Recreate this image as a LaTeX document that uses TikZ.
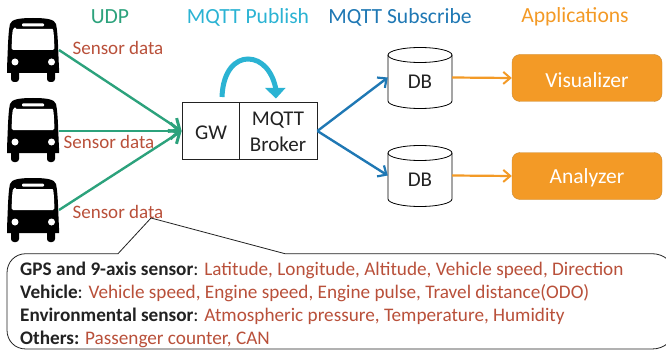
\documentclass[tikz,border=0pt]{standalone}
\usepackage{fontspec}
\setmainfont{Carlito}
\usetikzlibrary{arrows.meta,shapes.geometric}
\definecolor{udpgreen}{HTML}{2CA27C}
\definecolor{pubcyan}{HTML}{2BB3D3}
\definecolor{subblue}{HTML}{1F78B4}
\definecolor{apporange}{HTML}{F39A26}
\definecolor{apporangedark}{HTML}{C98A35}
\definecolor{sensorred}{HTML}{B9503A}
\definecolor{ink}{HTML}{222222}
\tikzset{
  x=1pt,y=-1pt,
  heading/.style={font=\fontsize{21.6}{24}\selectfont,anchor=center,inner sep=0pt},
  sensor/.style={font=\fontsize{19}{21}\selectfont,text=sensorred,anchor=center,inner sep=0pt},
  udpline/.style={draw=udpgreen,line width=2.4pt,-{Straight Barb[length=9pt,width=16pt,line width=3pt]}},
  subline/.style={draw=subblue,line width=2.4pt,-{Straight Barb[length=7pt,width=13pt,line width=2.2pt]}},
  appline/.style={draw=apporange,line width=2.2pt,-{Straight Barb[length=7pt,width=12pt,line width=2pt]}},
  appbox/.style={draw=apporangedark,fill=apporange,rounded corners=8pt,minimum width=150pt,minimum height=47pt,inner sep=0pt},
  apptext/.style={text=white,font=\fontsize{21.5}{24}\selectfont,inner sep=0pt},
  boxtext/.style={font=\fontsize{21}{25.5}\selectfont,text=ink,inner sep=0pt,align=center},
  calltext/.style={anchor=base west,inner sep=0pt,font=\fontsize{19.2}{21}\selectfont,text=ink},
  dbbox/.style={minimum width=64pt,minimum height=61pt,inner sep=0pt},
  busbox/.style={minimum width=52pt,minimum height=64pt,inner sep=0pt},
}
\newcommand{\busicon}[2]{%
  \begin{scope}[shift={(#1,#2)}]
    \fill[black,rounded corners=3pt] (4,50) rectangle (12,64) (40,50) rectangle (48,64);
    \fill[black] (0,55) -- (0,50) .. controls (1,30) and (1,15) .. (3,6) .. controls (4,1) and (14,0) .. (26,0) .. controls (38,0) and (48,1) .. (49,6) .. controls (51,15) and (51,30) .. (52,50) -- (52,55) -- cycle;
    \fill[white,rounded corners=1pt] (15,5.5) rectangle (37,8.5);
    \fill[white,rounded corners=1.5pt] (8,11) -- (44,11) .. controls (46,11) and (46.5,12) .. (47,20) -- (47.5,32) -- (4.5,32) -- (5,20) .. controls (5.5,12) and (6,11) .. (8,11) -- cycle;
    \fill[white] (8,44) circle (3.5) (44.5,44) circle (3.5);
  \end{scope}}
\newcommand{\dbshape}[2]{%
  \begin{scope}[shift={(#1,#2)}]
    \draw[black,line width=0.8pt,fill=white] (0,8) -- (0,54) arc[start angle=180,end angle=360,x radius=32,y radius=-7.5] -- (64,8);
    \draw[black,line width=0.8pt,fill=white] (32,8) ellipse[x radius=32,y radius=7.5];
  \end{scope}}
\begin{document}
\begin{tikzpicture}
\useasboundingbox (0,0) rectangle (666,350);
\clip (0,0) rectangle (666,350);
% headings
\node[heading,text=udpgreen] at (110,17) {UDP};
\node[heading,text=pubcyan] at (248,17) {MQTT Publish};
\node[heading,text=subblue] at (400,17) {MQTT Subscribe};
\node[heading,text=apporange] at (575,17) {Applications};
% buses
\busicon{7}{18}\busicon{7}{98}\busicon{7}{178}
\node[busbox] (bus1) at (33,50) {};
\node[busbox] (bus2) at (33,130) {};
\node[busbox] (bus3) at (33,210) {};
\coordinate (b1) at (59,50);
\coordinate (b2) at (59,131);
\coordinate (b3) at (59,210);
% gateway
\node[draw=ink,line width=0.8pt,minimum width=57pt,minimum height=57pt,inner sep=0pt] (gw) at (210.5,131) {};
\node[draw=ink,line width=0.8pt,minimum width=78pt,minimum height=57pt,inner sep=0pt] (broker) at (278,131) {};
\node[boxtext] at (211,133) {GW};
\node[boxtext] at (278,132) {MQTT\\Broker};
% dbs
\dbshape{388}{47}\dbshape{388}{145}
\node[dbbox] (db1) at (420,77.5) {};
\node[dbbox] (db2) at (420,175.5) {};
\node[boxtext] at (420,82) {DB};
\node[boxtext] at (420,180) {DB};
% apps
\node[appbox] (vis) at (587,78) {};
\node[appbox] (ana) at (587,176) {};
\node[apptext] at (587,80) {Visualizer};
\node[apptext] at (587,178) {Analyzer};
% connectors
\draw[udpline] (b1) -- (gw.west);
\draw[udpline] (b2) -- (gw.west);
\draw[udpline] (b3) -- (gw.west);
\draw[subline] (broker.east) -- (db1.west);
\draw[subline] (broker.east) -- (db2.west);
\draw[appline] (db1.east) -- (vis.west);
\draw[appline] (db2.east) -- (ana.west);
% publish arc
\draw[draw=pubcyan,line width=5pt] (222,97) .. controls (223,70) and (236,59) .. (248,59) .. controls (262,59) and (273,72) .. (276,90);
\fill[pubcyan] (265,88) -- (285.5,88) -- (276,98.5) -- cycle;
% sensor labels
\node[sensor] at (118,48) {Sensor data};
\node[sensor] at (109,142) {Sensor data};
\node[sensor] at (118,212) {Sensor data};
% callout
\coordinate (tip) at (151,218);
\draw[draw=ink,line width=0.8pt,fill=white] (118,253.7) -- (tip) -- (285,253.7) -- (652,253.7)
  .. controls (664,253.7) and (674,262) .. (674,274) -- (674,329) .. controls (674,341) and (664,349) .. (652,349)
  -- (26,349) .. controls (15,349) and (7,341) .. (7,330) -- (7,273) .. controls (7,262) and (15,253.7) .. (26,253.7) -- cycle;
\node[calltext] at (20,275) {\textbf{GPS and 9-axis sensor}: \textcolor{sensorred}{Latitude, Longitude, Altitude, Vehicle speed, Direction}};
\node[calltext] at (20,298) {\textbf{Vehicle}: \textcolor{sensorred}{Vehicle speed, Engine speed, Engine pulse, Travel distance(ODO)}};
\node[calltext] at (20,321) {\textbf{Environmental sensor}: \textcolor{sensorred}{Atmospheric pressure, Temperature, Humidity}};
\node[calltext] at (20,344) {\textbf{Others:} \textcolor{sensorred}{Passenger counter, CAN}};
\end{tikzpicture}
\end{document}
